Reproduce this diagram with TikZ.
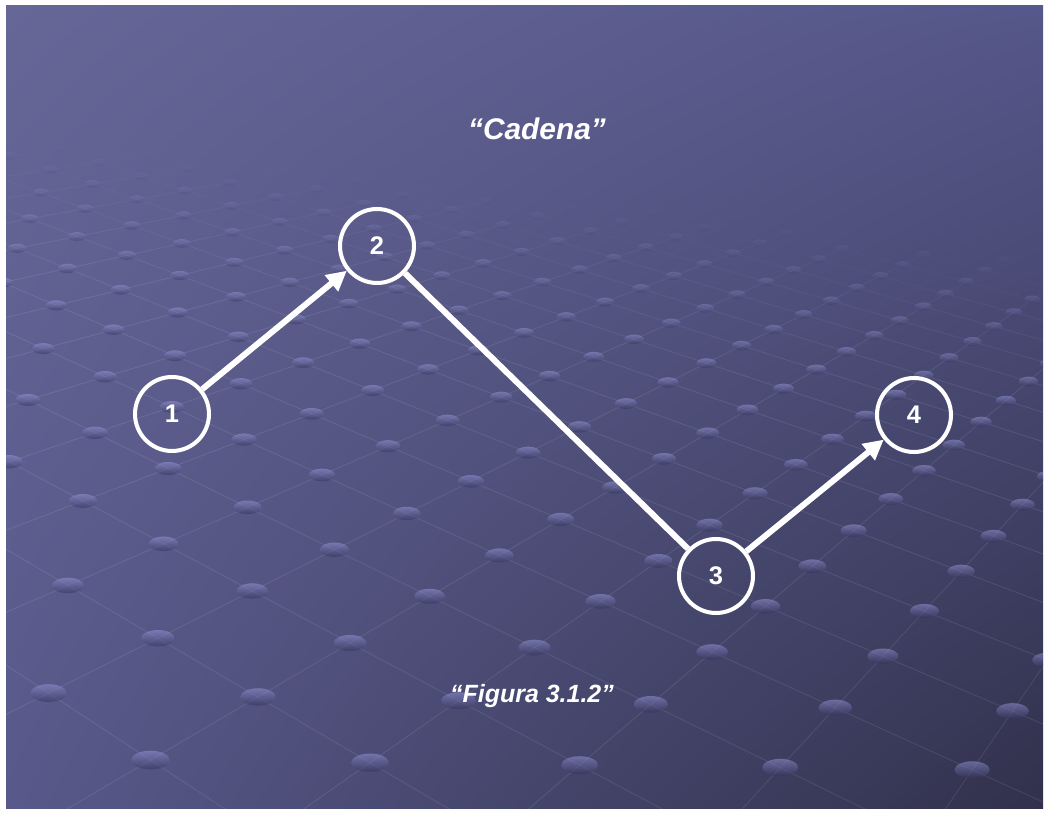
\documentclass[tikz,border=0pt]{standalone}
\usepackage{fontspec}
\setmainfont{Liberation Sans}
\usetikzlibrary{arrows.meta,shadings}
\definecolor{bgA}{HTML}{666797}
\definecolor{bgB}{HTML}{56578A}
\definecolor{bgC}{HTML}{58598A}
\definecolor{bgD}{HTML}{31314C}
\definecolor{dotTop}{HTML}{9A9CE0}
\definecolor{dotBot}{HTML}{2E2E55}
% point of the dotted floor (i,j) -> coordinate #3, weight in \pw
\newcommand\planept[3]{%
  \pgfmathsetmacro\pw{-0.052*(#1)+0.072*(#2)+1}%
  \pgfmathsetmacro\px{(84.7*(#1)+110.6*(#2)+350)/\pw}%
  \pgfmathsetmacro\py{(21.3*(#1)-3.8*(#2)+643)/\pw}%
  \coordinate (#3) at (\px,\py);%
}
\tikzset{
    station/.style={circle,draw=white,line width=2.3pt,minimum size=1.48cm,inner sep=0pt,
      text=white,font=\fontsize{14.5}{14.5}\selectfont\bfseries},
    link/.style={white,line width=3.4pt},
    flow/.style={link,-{Triangle[length=0.4cm,width=0.4cm]}},
    caption/.style={text=white,anchor=base},
    floorline/.style={white,line width=0.5pt},
    floordot/.style={top color=dotTop,bottom color=dotBot},
  }
\begin{document}
\begin{tikzpicture}[x=0.02cm,y=-0.02cm]
  \useasboundingbox (0,0) rectangle (1045,813);
  \fill[white] (0,0) rectangle (1045,813);
  \shade[upper left=bgA,upper right=bgB,lower left=bgC,lower right=bgD] (6,6) rectangle (1043,809);
  %floor of dots
  \begin{scope}
    \clip (6,6) rectangle (1043,809);
    \foreach \i in {-14,...,6}{
      \foreach \j in {-4,...,17}{
        \planept{\i}{\j}{q}
        \pgfmathsetmacro\fade{max(0,min(1,(2.3-\pw)/0.7))}
        \pgfmathtruncatemacro\far{\pw>2.3 ? 1 : 0}
        \ifnum\far=0
          \planept{\i+1}{\j}{qi}
          \planept{\i}{\j+1}{qj}
          \draw[floorline,opacity=0.09*\fade] (qi) -- (q) -- (qj);
        \fi
      }
    }
    \foreach \i in {-14,...,6}{
      \foreach \j in {-4,...,17}{
        \planept{\i}{\j}{q}
        \pgfmathsetmacro\fade{max(0,min(1,(2.3-\pw)/0.7))}
        \pgfmathtruncatemacro\far{\pw>2.3 ? 1 : 0}
        \ifnum\far=0
          \shade[floordot,opacity=0.5*\fade] (q) ellipse [x radius=16.5/\pw,y radius=8/\pw];
        \fi
      }
    }
  \end{scope}
  %chain
  \node[station] (n1) at (172,414) {1};
  \node[station] (n2) at (377,246) {2};
  \node[station] (n3) at (716,576) {3};
  \node[station] (n4) at (914,415) {4};
  \draw[flow] (n1) -- (n2);
  \draw[link] (n2) -- (n3);
  \draw[flow] (n3) -- (n4);
  \node[caption,font=\fontsize{17}{17}\selectfont\bfseries\itshape] (title) at (537,140) {“Cadena”};
  \node[caption,font=\fontsize{14.2}{14}\selectfont\bfseries\itshape] (figure) at (532,703) {“Figura 3.1.2”};
\end{tikzpicture}
\end{document}
